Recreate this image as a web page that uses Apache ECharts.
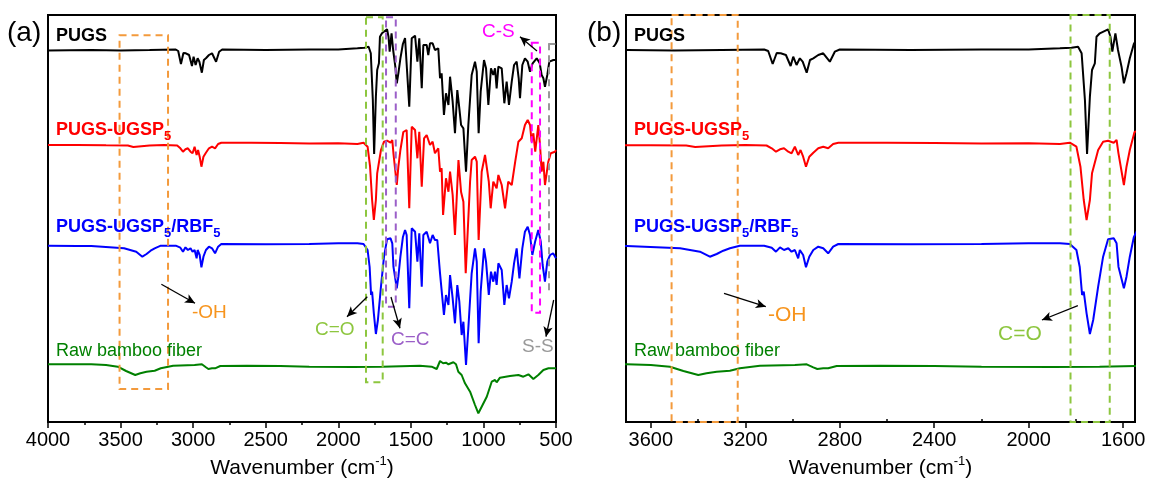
<!DOCTYPE html>
<html>
<head>
<meta charset="utf-8">
<script src="https://cdn.jsdelivr.net/npm/echarts@6/dist/echarts.min.js"></script>
<style>
  html, body { margin: 0; padding: 0; background: #fff; }
  #chart { width: 1151px; height: 489px; }
</style>
</head>
<body>
<div id="chart"></div>
<script>
// [wavenumber (cm-1), offset transmittance (a.u.)]
const pugs = [[4000,371.5],[3700,372],[3500,371.5],[3300,372],[3120,372.5],[3103,371],[3084,358],[3067,369],[3050,368.7],[3028,367],[3008,356],[2997,365.3],[2983,357],[2969,363.7],[2957,360.3],[2940,349.3],[2926,362],[2912,363.7],[2891,367],[2870,368.7],[2842,360.3],[2821,370.3],[2800,372.5],[2500,372],[2200,372.5],[2000,372.5],[1868,373.7],[1819,374.3],[1791,375.3],[1776,368.7],[1762,322],[1753,268],[1741,325.3],[1732,352],[1720,358.7],[1713,385.3],[1699,388.7],[1664,392.7],[1654,385.3],[1646,370.3],[1633,388.7],[1622,372],[1607,355.3],[1597,338.7],[1586,348.7],[1572,363.7],[1555,378],[1540,384],[1529,383.7],[1511,315.3],[1494,383.7],[1471,386.3],[1455,360.3],[1442,383.7],[1425,333.7],[1414,377],[1391,377],[1380,367],[1368,378.7],[1350,378.7],[1334,372],[1311,373.7],[1299,343.7],[1288,348.7],[1272,307],[1258,328.7],[1241,317],[1230,345.3],[1212,320.3],[1196,288.7],[1180,332],[1166,313.7],[1154,297],[1138,293.7],[1120,250.3],[1104,297],[1081,347],[1058,360.3],[1046,350.3],[1033,288.7],[1019,330.3],[996,362],[982,353.7],[966,317],[948,353.7],[932,347],[920,353.7],[909,333.7],[897,355.3],[874,353.7],[856,318.7],[840,340.3],[824,317],[805,340.3],[789,357],[771,360.3],[757,343.7],[748,323.7],[732,357],[714,363.7],[695,360.3],[679,350.3],[661,358.7],[633,363.7],[612,358.7],[599,347],[587,343.7],[576,335.3],[560,347],[546,360.3],[518,362],[500,362]];

const pugsUgsp = [[4000,277],[3800,277],[3600,276.7],[3450,276.5],[3412,275],[3300,276.5],[3200,277],[3110,276.5],[3088,273.7],[3070,270.3],[3053,272.7],[3036,273.7],[3018,270.3],[3004,268.7],[2990,275.3],[2976,267],[2966,272],[2955,265.3],[2943,255.3],[2929,265.3],[2912,269.3],[2891,273.7],[2870,275.3],[2849,273.7],[2828,278],[2806,279.3],[2600,279.3],[2400,279],[2200,278.5],[2000,278.7],[1868,278],[1826,279.3],[1798,275.3],[1781,255.3],[1767,222],[1755,202],[1741,222],[1732,248.7],[1706,272],[1685,280.3],[1664,281.3],[1640,279.3],[1628,282],[1620,268.7],[1597,237],[1586,255.3],[1572,272],[1552,290],[1529,292],[1511,213.7],[1494,295.3],[1471,292],[1455,263.7],[1442,290.3],[1425,235.3],[1409,283.7],[1391,287],[1368,277],[1350,280.3],[1334,268.7],[1311,273.7],[1299,250.3],[1288,253.7],[1278,207],[1258,243.7],[1241,230.3],[1230,250.3],[1212,227],[1196,187],[1172,262],[1154,230],[1138,220.3],[1122,148.7],[1092,240.3],[1081,262],[1058,265.3],[1046,260.3],[1033,182],[1012,250.3],[989,267],[963,240.3],[950,213.7],[932,240.3],[909,233.7],[897,247],[874,237],[851,213.7],[829,240.3],[805,237],[781,260.3],[759,280.3],[736,283.7],[714,297],[695,302],[679,297],[668,280.3],[656,288.7],[643,270.3],[622,297],[610,277],[599,250.3],[587,260.3],[576,237],[553,260.3],[536,268.7],[507,270.3],[500,272]];

const pugsRbf = [[4000,176.3],[3800,176],[3702,176],[3476,173.7],[3392,170.3],[3350,165.3],[3321,168],[3293,171.3],[3265,173.7],[3223,176.3],[3120,176.3],[3088,174.3],[3070,170.3],[3053,174.7],[3036,172],[3018,173.7],[3004,170.3],[2990,172],[2976,163.7],[2969,172],[2955,167],[2943,154.7],[2929,165.3],[2912,172],[2891,175.3],[2870,173.7],[2849,168.7],[2828,175.3],[2806,178],[2500,177.7],[2200,178],[2000,178.7],[1868,178.7],[1826,178],[1798,172],[1784,155],[1774,127],[1767,130.3],[1755,108.7],[1741,88],[1727,102],[1706,135.3],[1685,165.3],[1664,182.7],[1640,183.7],[1628,178.7],[1620,155.3],[1597,133.7],[1586,145.3],[1572,165.3],[1555,184.7],[1540,192],[1529,187],[1511,113.7],[1494,193.7],[1471,190.3],[1455,160.3],[1442,188.7],[1425,135.3],[1414,187],[1391,190.3],[1368,178.7],[1350,187],[1334,182],[1318,182],[1299,148.7],[1288,150.3],[1272,107],[1258,127],[1241,117],[1230,147],[1212,123.7],[1196,98.7],[1180,137],[1166,120.3],[1150,87],[1138,100.3],[1120,57],[1104,93.7],[1081,148.7],[1058,173.7],[1046,160.3],[1033,78.7],[1019,130.3],[996,173.7],[982,160.3],[963,127],[948,150.3],[932,140.3],[920,150.3],[909,137],[897,158.7],[874,152],[856,117],[840,137],[824,123.7],[805,140.3],[789,158.7],[771,173.7],[752,143.7],[732,173.7],[714,190.3],[695,195.3],[679,187],[663,167],[644,180.3],[622,192],[605,180.3],[592,157],[576,140.3],[560,160.3],[541,167],[520,168.7],[500,163.7]];

const bamboo = [[4000,57.7],[3702,57.7],[3600,57],[3519,55.3],[3462,51],[3399,47],[3364,48.7],[3321,50.3],[3265,51.3],[3223,53.7],[3138,56.3],[2990,57],[2940,57.7],[2912,54.7],[2895,53],[2870,53.7],[2849,53.7],[2813,56],[2630,56.3],[2400,56],[2200,55.3],[1900,55],[1700,55.3],[1437,56.3],[1357,55.3],[1322,53],[1299,61],[1278,58.7],[1258,59.3],[1241,57.7],[1207,59.7],[1189,57.7],[1173,50.3],[1150,47],[1127,38.7],[1092,30.3],[1058,17],[1035,8.7],[1012,15.3],[977,25.3],[943,40.3],[920,42],[909,39.7],[886,44.3],[817,46],[759,47],[725,45.3],[690,47.7],[656,43],[622,47],[587,52],[552,53.7],[500,53.7]];

const rightTicks = [3600, 3200, 2800, 2400, 2000, 1600];
const rightMinor = [3400, 3000, 2600, 2200, 1800];

const FONT = 'Arial, "Liberation Sans", sans-serif';
const C_ORANGE = '#f39a3c';
const C_LIME = '#8dc63f';
const C_PURPLE = '#9b5fc8';
const C_MAGENTA = '#ff00ff';
const C_GRAY = '#999999';

const spectra = [
  { name: 'PUGS', data: pugs, color: '#000000' },
  { name: 'PUGS-UGSP5', data: pugsUgsp, color: '#ff0000' },
  { name: 'PUGS-UGSP5/RBF5', data: pugsRbf, color: '#0000ff' },
  { name: 'Raw bamboo fiber', data: bamboo, color: '#008000' }
];

function box(x0, y0, x1, y1, color) {
  return [
    { xAxis: x0, yAxis: y0, itemStyle: { color: 'rgba(0,0,0,0)', borderColor: color, borderWidth: 2, borderType: [7, 5] } },
    { xAxis: x1, yAxis: y1 }
  ];
}
function arrow(x0, y0, x1, y1) {
  return [{ coord: [x0, y0], symbol: 'none' }, { coord: [x1, y1], symbol: 'arrow', symbolSize: [7, 10] }];
}
function dashSeg(x0, y0, x1, y1, color) {
  return [
    { coord: [x0, y0], symbol: 'none' },
    { coord: [x1, y1], symbol: 'none', lineStyle: { color: color, width: 2, type: [7, 5] } }
  ];
}

const markers = [
  {
    areas: [
      box(3507, 386.7, 3173, 33, C_ORANGE),
      box(1809, 404.7, 1694, 39.7, C_LIME),
      box(1671, 404.7, 1604, 115.3, C_PURPLE),
      box(667, 379.3, 610, 109.3, C_MAGENTA)
    ],
    lines: [
      arrow(3219, 137.7, 2987, 118.7),
      arrow(1800, 125.3, 1940, 105.3),
      arrow(1637, 125, 1575, 93.7),
      arrow(516, 122, 569, 85.3),
      arrow(631, 371, 748, 385.3),
      dashSeg(552, 378.7, 500, 378.7, C_GRAY),
      dashSeg(552, 378.7, 552, 129, C_GRAY)
    ]
  },
  {
    areas: [
      box(3512, 407, 3232, 0, C_ORANGE),
      box(1823, 407, 1657, 0, C_LIME)
    ],
    lines: [
      arrow(3290, 128.7, 3113, 115.3),
      arrow(1792, 116.3, 1944, 102)
    ]
  }
];

const series = [];
[0, 1].forEach(function (p) {
  spectra.forEach(function (s, i) {
    const item = {
      name: s.name,
      type: 'line',
      xAxisIndex: p,
      yAxisIndex: p,
      data: s.data,
      showSymbol: false,
      clip: true,
      lineStyle: { color: s.color, width: 2 },
      itemStyle: { color: s.color },
      silent: true,
      z: 3
    };
    if (i === 3) {
      item.markArea = { silent: true, data: markers[p].areas, z: 4 };
      item.markLine = {
        silent: true,
        symbol: ['none', 'arrow'],
        label: { show: false },
        lineStyle: { color: '#000', width: 1.3, type: 'solid' },
        data: markers[p].lines,
        z: 5
      };
    }
    series.push(item);
  });
});

const axisName = {
  name: '{a|Wavenumber (cm}{u|-1}{a|)}',
  nameLocation: 'middle',
  nameGap: 33,
  nameTextStyle: {
    rich: {
      a: { fontSize: 21, fontFamily: FONT, color: '#000', lineHeight: 26 },
      u: { fontSize: 13, fontFamily: FONT, color: '#000', lineHeight: 14, verticalAlign: 'top' }
    }
  }
};
const axisLine = { show: true, onZero: false, lineStyle: { color: '#000', width: 2 } };
const tickLabel = {
  color: '#000', fontSize: 20, fontFamily: FONT, margin: 8,
  formatter: function (v) { return String(v); }
};

const xAxis = [
  Object.assign({
    gridIndex: 0, type: 'value', inverse: true, min: 500, max: 4000, interval: 500,
    axisLine: axisLine,
    axisTick: { show: true, inside: false, length: 6, lineStyle: { color: '#000', width: 1.5 } },
    minorTick: { show: true, splitNumber: 2, length: 3, lineStyle: { color: '#000', width: 1.5 } },
    axisLabel: tickLabel,
    splitLine: { show: false }
  }, axisName),
  Object.assign({
    gridIndex: 1, type: 'value', inverse: true, min: 1550, max: 3705,
    axisLine: axisLine,
    axisTick: { show: true, inside: false, length: 6, customValues: rightTicks, lineStyle: { color: '#000', width: 1.5 } },
    axisLabel: Object.assign({ customValues: rightTicks }, tickLabel),
    splitLine: { show: false }
  }, axisName),
  {
    gridIndex: 1, type: 'value', inverse: true, min: 1550, max: 3705,
    axisLine: { show: false },
    axisTick: { show: true, inside: false, length: 3, customValues: rightMinor, lineStyle: { color: '#000', width: 1.5 } },
    axisLabel: { show: false },
    splitLine: { show: false }
  }
];

const yAxis = [0, 1].map(function (p) {
  return {
    gridIndex: p, type: 'value', min: 0, max: 407,
    axisLine: { show: true, lineStyle: { color: '#000', width: 2 } },
    axisTick: { show: false }, axisLabel: { show: false }, splitLine: { show: false }
  };
});

// text annotations
const seriesLabels = [
  { text: '{b|PUGS}', color: '#000000', y: 36 },
  { text: '{b|PUGS-UGSP}{s|5}', color: '#ff0000', y: 130 },
  { text: '{b|PUGS-UGSP}{s|5}{b|/RBF}{s|5}', color: '#0000ff', y: 227 },
  { text: '{n|Raw bamboo fiber}', color: '#008000', y: 351 }
];
const panelLeft = [56, 634];
const notes = [
  { text: '(a)', x: 7, y: 33, size: 28, color: '#000' },
  { text: '(b)', x: 587, y: 33, size: 28, color: '#000' },
  { text: '-OH', x: 192, y: 313, size: 19, color: '#f7941d' },
  { text: 'C=O', x: 315, y: 330, size: 19, color: C_LIME },
  { text: 'C=C', x: 391, y: 340, size: 19, color: C_PURPLE },
  { text: 'S-S', x: 522, y: 347, size: 19, color: C_GRAY },
  { text: 'C-S', x: 482, y: 32, size: 19, color: C_MAGENTA },
  { text: '-OH', x: 768, y: 315, size: 21, color: '#f7941d' },
  { text: 'C=O', x: 998, y: 334, size: 21, color: C_LIME }
];

const graphic = [];
panelLeft.forEach(function (x) {
  seriesLabels.forEach(function (l) {
    graphic.push({
      type: 'text', x: x, y: l.y, z: 10, silent: true,
      style: {
        text: l.text, verticalAlign: 'middle', align: 'left',
        rich: {
          b: { fontSize: 18, fontWeight: 'bold', fontFamily: FONT, fill: l.color, lineHeight: 26 },
          s: { fontSize: 13, fontWeight: 'bold', fontFamily: FONT, fill: l.color, lineHeight: 14, verticalAlign: 'bottom' },
          n: { fontSize: 18, fontFamily: FONT, fill: l.color, lineHeight: 26 }
        }
      }
    });
  });
});
notes.forEach(function (n) {
  graphic.push({
    type: 'text', x: n.x, y: n.y, z: 10, silent: true,
    style: { text: n.text, fill: n.color, font: n.size + 'px ' + FONT, verticalAlign: 'middle', align: 'left' }
  });
});

const chart = echarts.init(document.getElementById('chart'));
chart.setOption({
  animation: false,
  backgroundColor: '#fff',
  grid: [
    { left: 48, right: 595, top: 15, bottom: 67, show: true, borderColor: '#000', borderWidth: 2, backgroundColor: 'transparent' },
    { left: 626, right: 16, top: 15, bottom: 67, show: true, borderColor: '#000', borderWidth: 2, backgroundColor: 'transparent' }
  ],
  xAxis: xAxis,
  yAxis: yAxis,
  series: series,
  graphic: graphic
});
</script>
</body>
</html>
